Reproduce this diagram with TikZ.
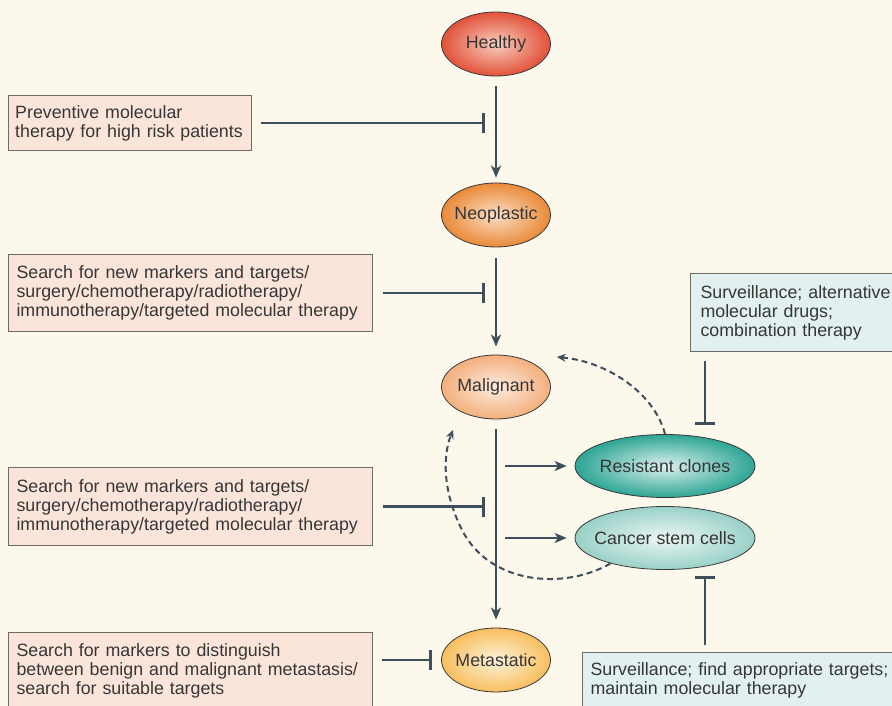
\documentclass[tikz,border=0pt]{standalone}
\usepackage{fontspec}
\setmainfont{Liberation Sans}
\usetikzlibrary{arrows.meta, positioning, shapes.geometric}

\definecolor{paper}{HTML}{FDF8EC}
\definecolor{trunk}{HTML}{3E4F5B}
\definecolor{ink}{HTML}{363636}
\definecolor{rim}{HTML}{3A3A3A}
\definecolor{boxrim}{HTML}{6E6A66}
\definecolor{pinkbox}{HTML}{FBE5DB}
\definecolor{bluebox}{HTML}{E2F0F0}
\newcommand\diagfont{\fontsize{13.35pt}{14.25pt}\selectfont\hyphenpenalty=10000}

\begin{document}
\begin{tikzpicture}[x=0.75pt,y=-0.75pt,node distance=128.25pt,on grid,>={Stealth[length=9pt,width=7.5pt,inset=2.5pt]},
	stage/.style={ellipse, draw=rim, line width=0.6pt, minimum width=81.75pt, minimum height=48pt, inner sep=0pt, font=\diagfont, text=ink,
		execute at begin node={\hbox to 0pt\bgroup\hss}, execute at end node={\hss\egroup}},
	clone/.style={stage, minimum width=135pt, minimum height=47.25pt},
	therapy/.style={rectangle, draw=boxrim, line width=0.8pt, fill=pinkbox, anchor=north west, align=left, inner xsep=6pt, font=\diagfont, text=ink},
	surveil/.style={therapy, fill=bluebox},
	flow/.style={->, draw=trunk, line width=2pt},
	inhibit/.style={-{Bar[width=15pt]}, draw=trunk, line width=2pt},
	recur/.style={-{Stealth[length=6.5pt,width=6pt]}, draw=trunk, line width=1.5pt, dash pattern=on 4.5pt off 3pt}]
	
	\useasboundingbox (0,0) rectangle (892,706);
	\clip (0,0) rectangle (892,706);
	\fill[paper] (0,0) rectangle (892,706);
	
	% stages of the disease
	\node (healthy) [stage, inner color={rgb,255:red,248;green,206;blue,190}, outer color={rgb,255:red,226;green,81;blue,58}] at (496,44) {Healthy};
	\node (neo) [stage, below=of healthy, inner color={rgb,255:red,251;green,222;blue,198}, outer color={rgb,255:red,233;green,138;blue,56}] {Neoplastic};
	\node (mal) [stage, below=129pt of neo, inner color={rgb,255:red,253;green,236;blue,224}, outer color={rgb,255:red,243;green,175;blue,125}] {Malignant};
	\node (meta) [stage, below=204.75pt of mal, inner color={rgb,255:red,254;green,243;blue,218}, outer color={rgb,255:red,248;green,190;blue,94}] {Metastatic};
	\node (resist) [clone, below right=59.25pt and 126.75pt of mal, inner color={rgb,255:red,220;green,241;blue,237}, outer color={rgb,255:red,45;green,165;blue,148}] {Resistant clones};
	\node (stem) [clone, below=54pt of resist, inner color={rgb,255:red,236;green,247;blue,245}, outer color={rgb,255:red,153;green,209;blue,199}] {Cancer stem cells};
	
	% therapies
	\node (prevent) [therapy, inner xsep=5pt, text width=172.25pt, minimum height=41.25pt] at (8,95) {Preventive molecular\\therapy for high risk patients};
	\node (search1) [therapy, text width=261pt, minimum height=57.75pt] at (8,254) {Search for new markers and targets/\\surgery/chemotherapy/radiotherapy/\\immunotherapy/targeted molecular therapy};
	\node (search2) [therapy, text width=261pt, minimum height=58.5pt] at (8,467) {Search for new markers and targets/\\surgery/chemotherapy/radiotherapy/\\immunotherapy/targeted molecular therapy};
	\node (markers) [therapy, text width=261pt, minimum height=57pt] at (8,632) {Search for markers to distinguish\\between benign and malignant metastasis/\\search for suitable targets};
	\node (alt) [surveil, inner xsep=7.5pt, text width=150pt, minimum height=58.5pt] at (690,273) {Surveillance; alternative\\molecular drugs;\\combination therapy};
	\node (maintain) [surveil, text width=234pt, minimum height=42pt] at (582,652) {Surveillance; find appropriate targets;\\maintain molecular therapy};
	
	% progression
	\draw [flow, shorten <=7.5pt, shorten >=3.75pt] (healthy) -- (neo);
	\draw [flow, shorten <=8.25pt, shorten >=6pt] (neo) -- (mal);
	\draw [flow, shorten <=7.5pt, shorten >=6pt] (mal) -- (meta);
	\draw [flow, shorten >=6pt] ([xshift=6.75pt]mal.south |- resist.west) -- (resist.west);
	\draw [flow, shorten >=6pt] ([xshift=6.75pt]mal.south |- stem.west) -- (stem.west);
	
	% blocking
	\draw [inhibit, shorten <=6.75pt, shorten >=8.25pt] (prevent.east) -- (prevent.east -| healthy);
	\draw [inhibit, shorten <=7.5pt, shorten >=8.25pt] (search1.east) -- (search1.east -| neo);
	\draw [inhibit, shorten <=7.5pt, shorten >=8.25pt] (search2.east) -- (search2.east -| mal);
	\draw [inhibit, shorten <=6.75pt, shorten >=6.75pt] (markers.east |- meta.west) -- (meta.west);
	\draw [inhibit, shorten <=6.75pt, shorten >=7pt] ([xshift=30pt]resist.north |- alt.south) -- ([xshift=30pt]resist.north);
	\draw [inhibit, shorten <=5.25pt, shorten >=4.9pt] ([xshift=30pt]stem.south |- maintain.north) -- ([xshift=30pt]stem.south);
	
	% relapse
	\coordinate (back1) at (557,357);
	\coordinate (back2) at (453,430);
	\draw [recur] (resist.north) .. controls (655,395) and (610,362) .. (back1);
	\draw [recur] (stem.205) .. controls (565,590) and (490,585) .. (462,530) .. controls (442,490) and (443,455) .. (back2);
\end{tikzpicture}
\end{document}
